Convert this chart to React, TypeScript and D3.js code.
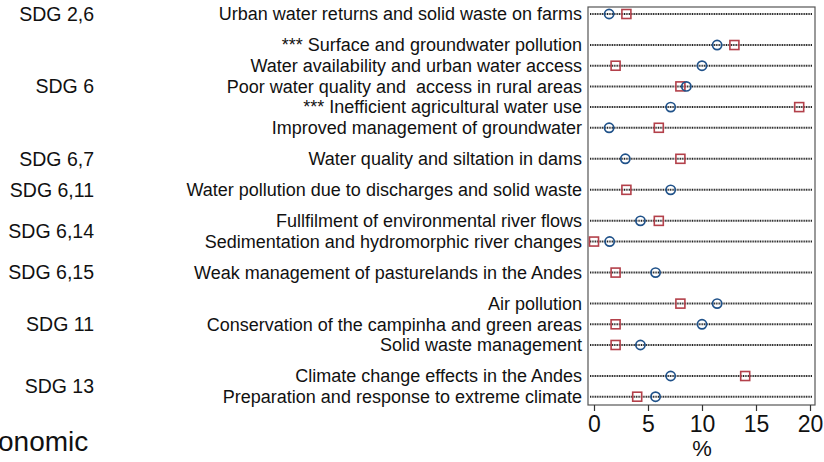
import { useEffect, useRef } from 'react';
import * as d3 from 'd3';

const categories = [
  'Urban water returns and solid waste on farms',
  '*** Surface and groundwater pollution',
  'Water availability and urban water access',
  'Poor water quality and  access in rural areas',
  '*** Inefficient agricultural water use',
  'Improved management of groundwater',
  'Water quality and siltation in dams',
  'Water pollution due to discharges and solid waste',
  'Fullfilment of environmental river flows',
  'Sedimentation and hydromorphic river changes',
  'Weak management of pasturelands in the Andes',
  'Air pollution',
  'Conservation of the campinha and green areas',
  'Solid waste management',
  'Climate change effects in the Andes',
  'Preparation and response to extreme climate',
];

const sdgGroups = [
  'SDG 2,6',
  'SDG 6', 'SDG 6', 'SDG 6', 'SDG 6', 'SDG 6',
  'SDG 6,7',
  'SDG 6,11',
  'SDG 6,14', 'SDG 6,14',
  'SDG 6,15',
  'SDG 11', 'SDG 11', 'SDG 11',
  'SDG 13', 'SDG 13',
];

const circleValues = [1.4, 11.4, 10.0, 8.55, 7.1, 1.4, 2.9, 7.1, 4.3, 1.45, 5.7, 11.4, 10.0, 4.3, 7.1, 5.7];
const squareValues = [3.0, 13.0, 2.0, 8.0, 19.0, 6.0, 8.0, 3.0, 6.0, 0.0, 2.0, 8.0, 2.0, 2.0, 14.0, 4.0];

const xTicks = [0, 5, 10, 15, 20];

const WIDTH = 824;
const HEIGHT = 462;
const FONT = 'Liberation Sans, Arial, sans-serif';

export default function App() {
  const ref = useRef<SVGSVGElement>(null);

  useEffect(() => {
    const svg = d3.select(ref.current);
    svg.selectAll('*').remove();

    // slot index: 1 between rows in a group, 1.5 between groups
    const slots: number[] = [];
    categories.forEach((_, i) => {
      if (i === 0) slots.push(0);
      else slots.push(slots[i - 1] + (sdgGroups[i] === sdgGroups[i - 1] ? 1 : 1.5));
    });

    const box = { left: 588, right: 815, top: 7, bottom: 405 };
    const xScale = d3.scaleLinear().domain([0, 20]).range([594, 810]);
    const yScale = d3.scaleLinear().domain([0, d3.max(slots)!]).range([14, 396.7]);

    // frame
    svg
      .append('rect')
      .attr('x', box.left)
      .attr('y', box.top)
      .attr('width', box.right - box.left)
      .attr('height', box.bottom - box.top)
      .attr('fill', 'none')
      .attr('stroke', '#555')
      .attr('stroke-width', 1.2);

    // dotted row lines
    svg
      .append('g')
      .selectAll('line')
      .data(slots)
      .enter()
      .append('line')
      .attr('x1', box.left + 2)
      .attr('x2', box.right - 3)
      .attr('y1', (d) => yScale(d))
      .attr('y2', (d) => yScale(d))
      .attr('stroke', '#222')
      .attr('stroke-width', 2)
      .attr('stroke-dasharray', '1,0.7');

    // x axis
    svg
      .append('g')
      .attr('transform', `translate(0,${box.bottom})`)
      .call(d3.axisBottom(xScale).tickValues(xTicks).tickSize(6).tickPadding(5))
      .call((g) => {
        g.select('.domain').remove();
        g.selectAll('.tick line').attr('stroke', '#333').attr('stroke-width', 1.2);
        g.selectAll('.tick text')
          .attr('font-family', FONT)
          .attr('font-size', '23px')
          .attr('fill', '#111');
      });

    svg
      .append('text')
      .attr('x', xScale(10))
      .attr('y', 456)
      .attr('text-anchor', 'middle')
      .attr('font-family', FONT)
      .attr('font-size', '22px')
      .attr('fill', '#111')
      .text('%');

    // category labels
    svg
      .append('g')
      .selectAll('text')
      .data(categories)
      .enter()
      .append('text')
      .attr('x', 582)
      .attr('y', (_, i) => yScale(slots[i]))
      .attr('dy', '0.35em')
      .attr('text-anchor', 'end')
      .attr('font-family', FONT)
      .attr('font-size', '18px')
      .attr('fill', '#111')
      .style('white-space', 'pre')
      .text((d) => d);

    // group labels
    const groups = Array.from(new Set(sdgGroups));
    svg
      .append('g')
      .selectAll('text')
      .data(groups)
      .enter()
      .append('text')
      .attr('x', 94)
      .attr('y', (g) => {
        const ys = slots.filter((_, i) => sdgGroups[i] === g).map((s) => yScale(s));
        return (d3.min(ys)! + d3.max(ys)!) / 2;
      })
      .attr('dy', '0.35em')
      .attr('text-anchor', 'end')
      .attr('font-family', FONT)
      .attr('font-size', '19.5px')
      .attr('fill', '#111')
      .text((d) => d);

    svg
      .append('text')
      .attr('x', -2)
      .attr('y', 451)
      .attr('font-family', FONT)
      .attr('font-size', '28px')
      .attr('fill', '#111')
      .text('onomic');

    // squares
    const sq = 9;
    svg
      .append('g')
      .selectAll('rect')
      .data(squareValues)
      .enter()
      .append('rect')
      .attr('x', (d) => xScale(d) - sq / 2)
      .attr('y', (_, i) => yScale(slots[i]) - sq / 2)
      .attr('width', sq)
      .attr('height', sq)
      .attr('fill', 'none')
      .attr('stroke', '#b3404a')
      .attr('stroke-width', 1.6);

    // circles
    svg
      .append('g')
      .selectAll('circle')
      .data(circleValues)
      .enter()
      .append('circle')
      .attr('cx', (d) => xScale(d))
      .attr('cy', (_, i) => yScale(slots[i]))
      .attr('r', 4.6)
      .attr('fill', 'none')
      .attr('stroke', '#1f5189')
      .attr('stroke-width', 1.7);
  }, []);

  return (
    <svg
      ref={ref}
      width={WIDTH}
      height={HEIGHT}
      style={{ position: 'absolute', left: 0, top: 0, background: '#fff' }}
    />
  );
}
